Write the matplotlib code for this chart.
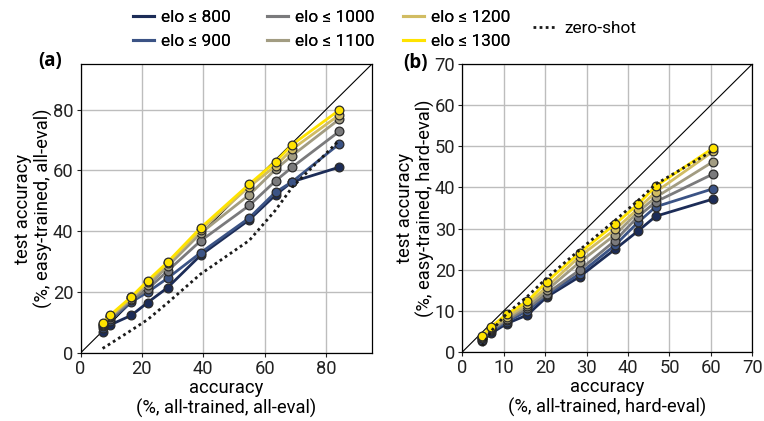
import matplotlib
matplotlib.use("Agg")
import matplotlib.pyplot as plt
from matplotlib.lines import Line2D

# elo thresholds of the training sets
elo_labels = ["elo ≤ 800", "elo ≤ 900", "elo ≤ 1000", "elo ≤ 1100", "elo ≤ 1200", "elo ≤ 1300"]
elo_colors = ["#1c2c57", "#3b5385", "#7a7a7c", "#a29c82", "#d1bc62", "#ffe300"]

# (a) all-eval
x_a = [7.2, 9.6, 16.6, 21.9, 28.4, 39.2, 55.0, 63.6, 69.0, 84.4]
elo800_a = [6.9, 9.2, 12.4, 16.6, 21.5, 32.2, 43.8, 52.0, 56.3, 61.1]
elo900_a = [8.2, 10.6, 16.8, 20.0, 24.6, 33.0, 44.4, 52.9, 56.3, 68.8]
elo1000_a = [8.8, 11.3, 17.3, 21.0, 27.0, 36.9, 48.5, 56.6, 61.1, 72.9]
elo1100_a = [9.2, 11.8, 17.8, 22.5, 28.5, 39.4, 52.0, 60.4, 64.9, 76.9]
elo1200_a = [9.6, 12.0, 18.3, 23.3, 29.5, 40.5, 54.7, 61.5, 67.0, 78.3]
elo1300_a = [9.8, 12.4, 18.5, 23.8, 29.9, 41.2, 55.5, 62.9, 68.5, 79.9]
zeroshot_a = [1.5, 3.0, 7.5, 11.0, 16.5, 26.0, 37.0, 47.0, 54.5, 70.0]

# (b) hard-eval
x_b = [4.8, 6.9, 10.7, 15.7, 20.4, 28.3, 36.9, 42.4, 46.7, 60.6]
elo800_b = [2.6, 4.5, 6.9, 9.0, 13.4, 18.3, 25.0, 29.4, 33.0, 37.2]
elo900_b = [3.0, 5.0, 7.3, 10.0, 13.9, 19.0, 26.0, 31.5, 35.3, 39.7]
elo1000_b = [3.3, 5.3, 7.7, 10.6, 14.2, 19.9, 27.1, 32.9, 36.5, 43.3]
elo1100_b = [3.5, 5.5, 8.1, 11.2, 15.0, 21.8, 28.5, 34.0, 37.6, 46.3]
elo1200_b = [3.7, 5.8, 8.5, 11.7, 15.8, 23.2, 29.8, 34.8, 38.9, 48.8]
elo1300_b = [4.0, 6.1, 9.2, 12.3, 17.1, 24.1, 31.1, 35.9, 40.3, 49.6]
zeroshot_b = [1.5, 5.0, 9.3, 13.5, 18.0, 24.8, 32.0, 36.8, 40.8, 49.0]

FS = 13.2
LEG_FS = 12.4

plt.rcParams["font.family"] = ["Roboto", "DejaVu Sans"]
plt.rcParams["font.size"] = FS

fig = plt.figure(figsize=(7.64, 4.21), dpi=100)
ax_a = fig.add_axes([80.5 / 764, 68 / 421, 291.5 / 764, 289 / 421])
ax_b = fig.add_axes([462.3 / 764, 69 / 421, 290 / 764, 288 / 421])


def draw_panel(ax, x, series, zeroshot, lim, ticks, xlabel, ylabel):
    ax.plot([0, lim], [0, lim], color="black", lw=0.8, zorder=1)
    for ys, c in zip(series, elo_colors):
        ax.plot(x, ys, color=c, lw=2, marker="o", markersize=6.3,
                markerfacecolor=c, markeredgecolor="#2a2a2a", markeredgewidth=0.9, zorder=3)
    ax.plot(x, zeroshot, color="#1a1a1a", lw=2, ls=(0, (1, 1.2)), zorder=4)
    ax.set_xlim(0, lim)
    ax.set_ylim(0, lim)
    ax.set_xticks(ticks)
    ax.set_yticks(ticks)
    ax.grid(True, color="#bdbdbd", lw=1)
    ax.set_axisbelow(True)
    ax.tick_params(length=3, width=0.8, colors="#222222", labelsize=FS, pad=2)
    for s in ax.spines.values():
        s.set_color("black")
        s.set_linewidth(0.9)
    ax.set_xlabel(xlabel, fontsize=FS, labelpad=1, linespacing=1.1)
    ax.set_ylabel(ylabel, fontsize=FS, labelpad=0, linespacing=1.1)


draw_panel(ax_a, x_a,
           [elo800_a, elo900_a, elo1000_a, elo1100_a, elo1200_a, elo1300_a],
           zeroshot_a, 95, [0, 20, 40, 60, 80],
           "accuracy\n(%, all-trained, all-eval)",
           "test accuracy\n(%, easy-trained, all-eval)")
draw_panel(ax_b, x_b,
           [elo800_b, elo900_b, elo1000_b, elo1100_b, elo1200_b, elo1300_b],
           zeroshot_b, 70, [0, 10, 20, 30, 40, 50, 60, 70],
           "accuracy\n(%, all-trained, hard-eval)",
           "test accuracy\n(%, easy-trained, hard-eval)")

fig.text(50 / 764, 1 - 61 / 421, "(a)", fontsize=13.5, fontweight="bold",
         family=["Open Sans", "DejaVu Sans"], ha="center", va="center")
fig.text(415 / 764, 1 - 63 / 421, "(b)", fontsize=13.5, fontweight="bold",
         family=["Open Sans", "DejaVu Sans"], ha="center", va="center")

# legend: one small legend per column so the columns sit where the original has them
col_x = [133, 267, 403]
for i, x0 in enumerate(col_x):
    hs = [Line2D([], [], color=c, lw=2.2) for c in elo_colors[2 * i:2 * i + 2]]
    leg = fig.legend(hs, elo_labels[2 * i:2 * i + 2], frameon=False, fontsize=LEG_FS,
                     loc="upper left", bbox_to_anchor=(x0 / 764, 1 - 10 / 421),
                     handlelength=1.2, handletextpad=0.4, labelspacing=0.5,
                     borderaxespad=0, borderpad=0)
    fig.add_artist(leg)
fig.legend([Line2D([], [], color="#1a1a1a", lw=2, ls=(0, (1, 1.2)))], ["zero-shot"],
           frameon=False, fontsize=LEG_FS, loc="upper left",
           bbox_to_anchor=(533 / 764, 1 - 21 / 421), handlelength=1.4,
           handletextpad=0.4, borderaxespad=0, borderpad=0)

plt.savefig("out.png", dpi=100)
